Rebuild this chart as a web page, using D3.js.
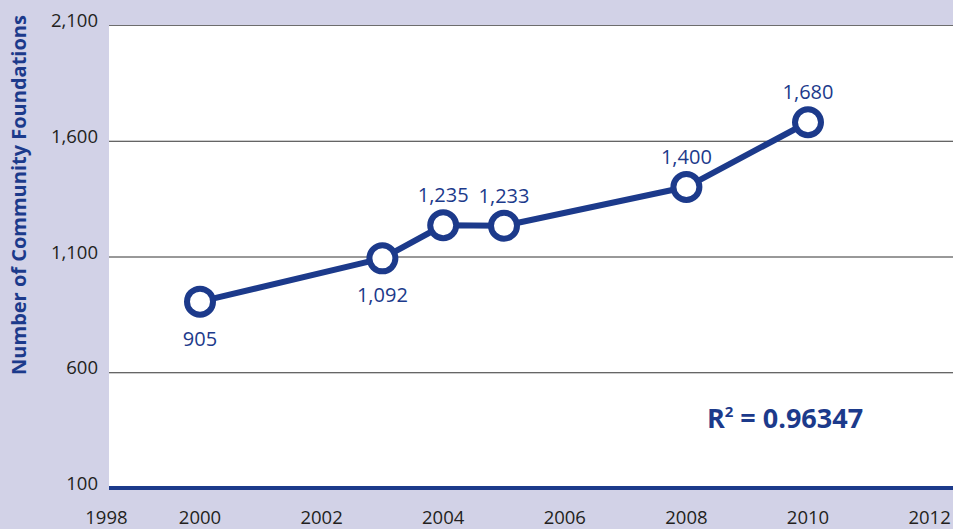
<!DOCTYPE html>
<html>
<head>
<meta charset="utf-8">
<script src="https://cdn.jsdelivr.net/npm/d3@7"></script>
<style>
  body { margin: 0; background: #d2d2e7; }
  svg { display: block; font-family: "Open Sans", sans-serif; }
</style>
</head>
<body>
<svg width="953" height="529"></svg>
<script>
// data
const years = [2000, 2003, 2004, 2005, 2008, 2010];
const foundations = [905, 1092, 1235, 1233, 1400, 1680];
const labelBelow = [true, true, false, false, false, false];
const yTicks = [100, 600, 1100, 1600, 2100];
const xTicks = [1998, 2000, 2002, 2004, 2006, 2008, 2010, 2012];
const rSquared = "0.96347";

const svg = d3.select("svg");
const width = +svg.attr("width");
const height = +svg.attr("height");
const blue = "#1c3a8b";

const plot = { left: 109, top: 25, right: width, bottom: 488 };

const x = d3.scaleLinear().domain([2000, 2010]).range([200, 808]);
const y = d3.scaleLinear().domain([100, 2100]).range([plot.bottom, plot.top]);

// plot background
svg.append("rect")
  .attr("x", plot.left)
  .attr("y", plot.top)
  .attr("width", plot.right - plot.left)
  .attr("height", plot.bottom - plot.top)
  .attr("fill", "#fff");

// gridlines
svg.append("g")
  .selectAll("line")
  .data(yTicks.filter(d => d !== 100))
  .join("line")
  .attr("x1", plot.left)
  .attr("x2", plot.right)
  .attr("y1", d => y(d) + 0.5)
  .attr("y2", d => y(d) + 0.5)
  .attr("stroke", d => d === 2100 ? "#6d6d6d" : "#333")
  .attr("stroke-width", 1);

// baseline
svg.append("line")
  .attr("x1", plot.left)
  .attr("x2", plot.right)
  .attr("y1", y(100))
  .attr("y2", y(100))
  .attr("stroke", blue)
  .attr("stroke-width", 4);

// y tick labels
svg.append("g")
  .selectAll("text")
  .data(yTicks)
  .join("text")
  .attr("x", plot.left - 11)
  .attr("y", d => y(d) + 2)
  .attr("text-anchor", "end")
  .attr("font-size", 18.5)
  .attr("fill", "#231f20")
  .text(d3.format(","));

// x tick labels (first one is nudged inside the page)
svg.append("g")
  .selectAll("text")
  .data(xTicks)
  .join("text")
  .attr("x", d => d === 1998 ? x(d) + 28 : x(d))
  .attr("y", 524)
  .attr("text-anchor", "middle")
  .attr("font-size", 18.5)
  .attr("fill", "#231f20")
  .text(d => d);

// y axis title
svg.append("text")
  .attr("transform", `translate(26,195) rotate(-90)`)
  .attr("text-anchor", "middle")
  .attr("font-size", 20)
  .attr("font-weight", "bold")
  .attr("fill", blue)
  .text("Number of Community Foundations");

const pts = years.map((yr, i) => ({ year: yr, value: foundations[i], below: labelBelow[i] }));

// line
svg.append("path")
  .datum(pts)
  .attr("fill", "none")
  .attr("stroke", blue)
  .attr("stroke-width", 6)
  .attr("stroke-linejoin", "round")
  .attr("d", d3.line().x(d => x(d.year)).y(d => y(d.value)));

// markers
svg.append("g")
  .selectAll("circle")
  .data(pts)
  .join("circle")
  .attr("cx", d => x(d.year))
  .attr("cy", d => y(d.value))
  .attr("r", 13)
  .attr("fill", "#fff")
  .attr("stroke", blue)
  .attr("stroke-width", 6);

// value labels
svg.append("g")
  .selectAll("text")
  .data(pts)
  .join("text")
  .attr("x", d => x(d.year))
  .attr("y", d => y(d.value) + (d.below ? 44 : -23))
  .attr("text-anchor", "middle")
  .attr("font-size", 20)
  .attr("fill", blue)
  .text(d => d3.format(",")(d.value));

// r squared
const r2 = svg.append("text")
  .attr("x", 785)
  .attr("y", 428)
  .attr("text-anchor", "middle")
  .attr("font-size", 27)
  .attr("font-weight", "bold")
  .attr("fill", blue);
r2.append("tspan").text("R");
r2.append("tspan").attr("font-size", 15).attr("dy", -11).text("2");
r2.append("tspan").attr("dy", 11).text(" = " + rSquared);
</script>
</body>
</html>
